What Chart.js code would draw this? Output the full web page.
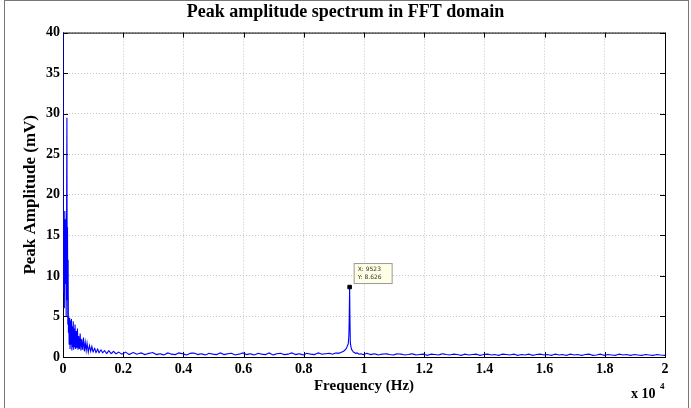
<!DOCTYPE html>
<html>
<head>
<meta charset="utf-8">
<script src="https://cdn.jsdelivr.net/npm/chart.js@4.4.1/dist/chart.umd.min.js"></script>
<style>
  html, body { margin: 0; padding: 0; background: #fff; }
  #wrap { width: 691px; height: 408px; position: relative; }
</style>
</head>
<body>
<div id="wrap"><canvas id="myChart" width="691" height="408"></canvas></div>
<script>
// 주파수 (Hz)
var freqs = [
    0, 15, 30, 45, 60, 75, 90, 105, 120, 130,
    140, 150, 160, 170, 180, 190, 205, 220, 235, 250,
    265, 280, 295, 310, 325, 340, 355, 370, 385, 400,
    420, 440, 460, 480, 500, 520, 545, 570, 595, 620,
    650, 680, 710, 740, 770, 800, 840, 880, 920, 960,
    1000, 1050, 1100, 1150, 1200, 1260, 1320, 1380, 1450, 1520,
    1600, 1680, 1760, 1850, 1950, 2080, 2200, 2330, 2450, 2600,
    2720, 2850, 2980, 3100, 3230, 3350, 3480, 3600, 3730, 3850,
    3980, 4100, 4230, 4350, 4480, 4600, 4730, 4850, 4980, 5100,
    5230, 5350, 5480, 5600, 5730, 5850, 5980, 6100, 6230, 6350,
    6480, 6600, 6730, 6850, 6980, 7100, 7230, 7350, 7480, 7600,
    7730, 7850, 7980, 8100, 8230, 8350, 8480, 8600, 8730, 8850,
    8960, 9060, 9160, 9250, 9320, 9380, 9420, 9450, 9475, 9490,
    9500, 9508, 9515, 9523, 9530, 9538, 9546, 9556, 9570, 9590,
    9615, 9645, 9680, 9720, 9770, 9830, 9900, 9980, 10100, 10230,
    10350, 10480, 10600, 10730, 10850, 10980, 11100, 11230, 11350, 11480,
    11600, 11730, 11850, 11980, 12100, 12230, 12350, 12480, 12600, 12730,
    12850, 12980, 13100, 13230, 13350, 13480, 13600, 13730, 13850, 13980,
    14100, 14230, 14350, 14480, 14600, 14730, 14850, 14980, 15100, 15230,
    15350, 15480, 15600, 15730, 15850, 15980, 16100, 16230, 16350, 16480,
    16600, 16730, 16850, 16980, 17100, 17230, 17350, 17480, 17600, 17730,
    17850, 17980, 18100, 18230, 18350, 18480, 18600, 18730, 18850, 18980,
    19100, 19230, 19350, 19480, 19600, 19730, 19850, 20000
];
// 피크 진폭 (mV)
var amps = [
    42, 8, 17, 6, 18, 9, 17, 5, 18, 29.5,
    7, 16, 4, 12, 3, 5, 1.5, 4.8, 1, 4.5,
    1.5, 4.7, 0.8, 3.8, 1.2, 4.4, 0.9, 3.5, 1.2, 4.0,
    1.0, 3.2, 1.1, 3.5, 0.9, 2.6, 1.0, 2.9, 0.8, 2.2,
    0.9, 2.4, 0.7, 1.8, 0.8, 1.7, 0.6, 1.4, 0.7, 1.3,
    0.6, 1.1, 0.5, 1.0, 0.5, 0.9, 0.5, 0.8, 0.4, 0.8,
    0.4, 0.7, 0.4, 0.6, 0.35, 0.6, 0.3, 0.55, 0.35, 0.5,
    0.3, 0.45, 0.55, 0.3, 0.4, 0.25, 0.5, 0.35, 0.3, 0.5,
    0.4, 0.25, 0.45, 0.5, 0.3, 0.4, 0.25, 0.45, 0.35, 0.3,
    0.5, 0.3, 0.4, 0.45, 0.25, 0.35, 0.5, 0.3, 0.4, 0.25,
    0.45, 0.35, 0.3, 0.5, 0.25, 0.4, 0.45, 0.3, 0.35, 0.5,
    0.3, 0.4, 0.25, 0.45, 0.35, 0.3, 0.5, 0.35, 0.4, 0.45,
    0.35, 0.5, 0.45, 0.6, 0.7, 0.9, 1.1, 1.4, 1.6, 2.2,
    3.0, 4.5, 6.5, 8.626, 6.0, 3.5, 1.8, 1.5, 1.2, 0.9,
    0.8, 0.6, 0.55, 0.45, 0.5, 0.35, 0.4, 0.3, 0.45, 0.3,
    0.4, 0.25, 0.35, 0.4, 0.3, 0.25, 0.4, 0.35, 0.25, 0.3,
    0.4, 0.25, 0.3, 0.35, 0.2, 0.35, 0.3, 0.25, 0.4, 0.3,
    0.25, 0.35, 0.3, 0.2, 0.35, 0.25, 0.3, 0.35, 0.2, 0.3,
    0.35, 0.25, 0.3, 0.2, 0.35, 0.3, 0.25, 0.35, 0.2, 0.3,
    0.25, 0.35, 0.2, 0.3, 0.35, 0.25, 0.3, 0.2, 0.35, 0.25,
    0.3, 0.2, 0.35, 0.25, 0.3, 0.2, 0.3, 0.35, 0.2, 0.25,
    0.35, 0.2, 0.3, 0.25, 0.2, 0.35, 0.25, 0.3, 0.2, 0.3,
    0.25, 0.2, 0.3, 0.25, 0.2, 0.3, 0.25, 0.2
];
var peakX = 9523;
var peakY = 8.626;
var yTicks = [0, 5, 10, 15, 20, 25, 30, 35, 40];

var points = freqs.map(function (f, i) { return { x: f, y: amps[i] }; });
var serif = "'Liberation Serif', 'DejaVu Serif', serif";

// 박스와 안쪽 눈금 (데이터 아래), 데이터팁과 지수 표시 (위)
var matlabPlugin = {
    id: 'matlab',
    beforeDatasetsDraw: function (chart) {
        var ctx = chart.ctx;
        var a = chart.chartArea;
        var xs = chart.scales.x, ys = chart.scales.y;
        ctx.save();
        ctx.strokeStyle = '#777';
        ctx.lineWidth = 1;
        ctx.strokeRect(4.5, 0.5, 684, 410);
        ctx.strokeStyle = '#000';
        ctx.strokeRect(a.left + 0.5, a.top + 0.5, a.right - a.left, a.bottom - a.top);
        ctx.beginPath();
        xs.ticks.forEach(function (t) {
            var px = Math.round(xs.getPixelForValue(t.value)) + 0.5;
            ctx.moveTo(px, a.bottom); ctx.lineTo(px, a.bottom - 5);
            ctx.moveTo(px, a.top); ctx.lineTo(px, a.top + 5);
        });
        ys.ticks.forEach(function (t) {
            var py = Math.round(ys.getPixelForValue(t.value)) + 0.5;
            ctx.moveTo(a.left, py); ctx.lineTo(a.left + 5, py);
            ctx.moveTo(a.right, py); ctx.lineTo(a.right - 5, py);
        });
        ctx.stroke();
        ctx.restore();
    },
    afterDraw: function (chart) {
        var ctx = chart.ctx;
        var a = chart.chartArea;
        var xs = chart.scales.x, ys = chart.scales.y;
        ctx.save();
        var px = xs.getPixelForValue(peakX), py = ys.getPixelForValue(peakY);
        var bx = px + 4, by = py - 24;
        ctx.fillStyle = '#ffffe6';
        ctx.strokeStyle = '#999';
        ctx.lineWidth = 1;
        ctx.fillRect(bx, by, 38, 20);
        ctx.strokeRect(bx + 0.5, by + 0.5, 38, 20);
        ctx.fillStyle = '#333';
        ctx.font = "6px 'DejaVu Sans', sans-serif";
        ctx.textBaseline = 'top';
        ctx.fillText('X: ' + peakX, bx + 4, by + 3);
        ctx.fillText('Y: ' + peakY, bx + 4, by + 11);
        ctx.fillStyle = '#000';
        ctx.font = "bold 14px " + serif;
        ctx.textBaseline = 'alphabetic';
        ctx.fillText('x 10', a.right - 34, a.bottom + 41);
        ctx.font = "bold 9px " + serif;
        ctx.fillText('4', a.right - 5, a.bottom + 32);
        ctx.restore();
    }
};

var ctx = document.getElementById('myChart').getContext('2d');
var myChart = new Chart(ctx, {
    type: 'line',
    data: {
        datasets: [{
            data: points,
            borderColor: '#0000ff',
            borderWidth: 1.1,
            pointRadius: 0,
            tension: 0.001,
            fill: false,
            order: 2
        }, {
            data: [{ x: peakX, y: peakY }],
            borderColor: '#000',
            backgroundColor: '#000',
            pointStyle: 'rect',
            pointRadius: 2.5,
            showLine: false,
            order: 1
        }]
    },
    plugins: [matlabPlugin],
    options: {
        responsive: false,
        animation: false,
        devicePixelRatio: 1,
        layout: { padding: 0 },
        plugins: {
            legend: { display: false },
            tooltip: { enabled: false },
            title: {
                display: true,
                text: 'Peak amplitude spectrum in FFT domain',
                color: '#000',
                font: { family: serif, size: 18, weight: 'bold' },
                padding: { top: 2, bottom: 9 }
            }
        },
        scales: {
            x: {
                type: 'linear',
                min: 0,
                max: 20000,
                afterBuildTicks: function (s) {
                    s.ticks = [];
                    for (var v = 0; v <= 20000; v += 2000) s.ticks.push({ value: v });
                },
                ticks: {
                    color: '#000',
                    font: { family: serif, size: 14, weight: 'bold' },
                    padding: 4,
                    maxRotation: 0,
                    autoSkip: false,
                    callback: function (v) { return String(+(v / 10000).toFixed(1)); }
                },
                grid: { color: '#c4c4c4', drawTicks: false },
                border: { display: false, dash: [1, 2] },
                title: {
                    display: true,
                    text: 'Frequency (Hz)',
                    color: '#000',
                    font: { family: serif, size: 15, weight: 'bold' },
                    padding: { top: 0, bottom: 13 }
                },
                afterFit: function (s) { s.height = 51; }
            },
            y: {
                type: 'linear',
                min: 0,
                max: 40,
                afterBuildTicks: function (s) {
                    s.ticks = yTicks.map(function (v) { return { value: v }; });
                },
                ticks: {
                    color: '#000',
                    font: { family: serif, size: 14, weight: 'bold' },
                    padding: 3,
                    autoSkip: false
                },
                grid: { color: '#c4c4c4', drawTicks: false },
                border: { display: false, dash: [1, 2] },
                title: {
                    display: true,
                    text: 'Peak Amplitude (mV)',
                    color: '#000',
                    font: { family: serif, size: 17, weight: 'bold' },
                    padding: { top: 20, bottom: 0 }
                },
                afterFit: function (s) { s.width = 63; }
            },
            // 오른쪽 여백용 빈 축
            yRight: {
                type: 'linear',
                position: 'right',
                min: 0,
                max: 40,
                ticks: { display: false },
                grid: { drawOnChartArea: false, drawTicks: false },
                border: { display: false },
                afterFit: function (s) { s.width = 26; }
            }
        }
    }
});
</script>
</body>
</html>
